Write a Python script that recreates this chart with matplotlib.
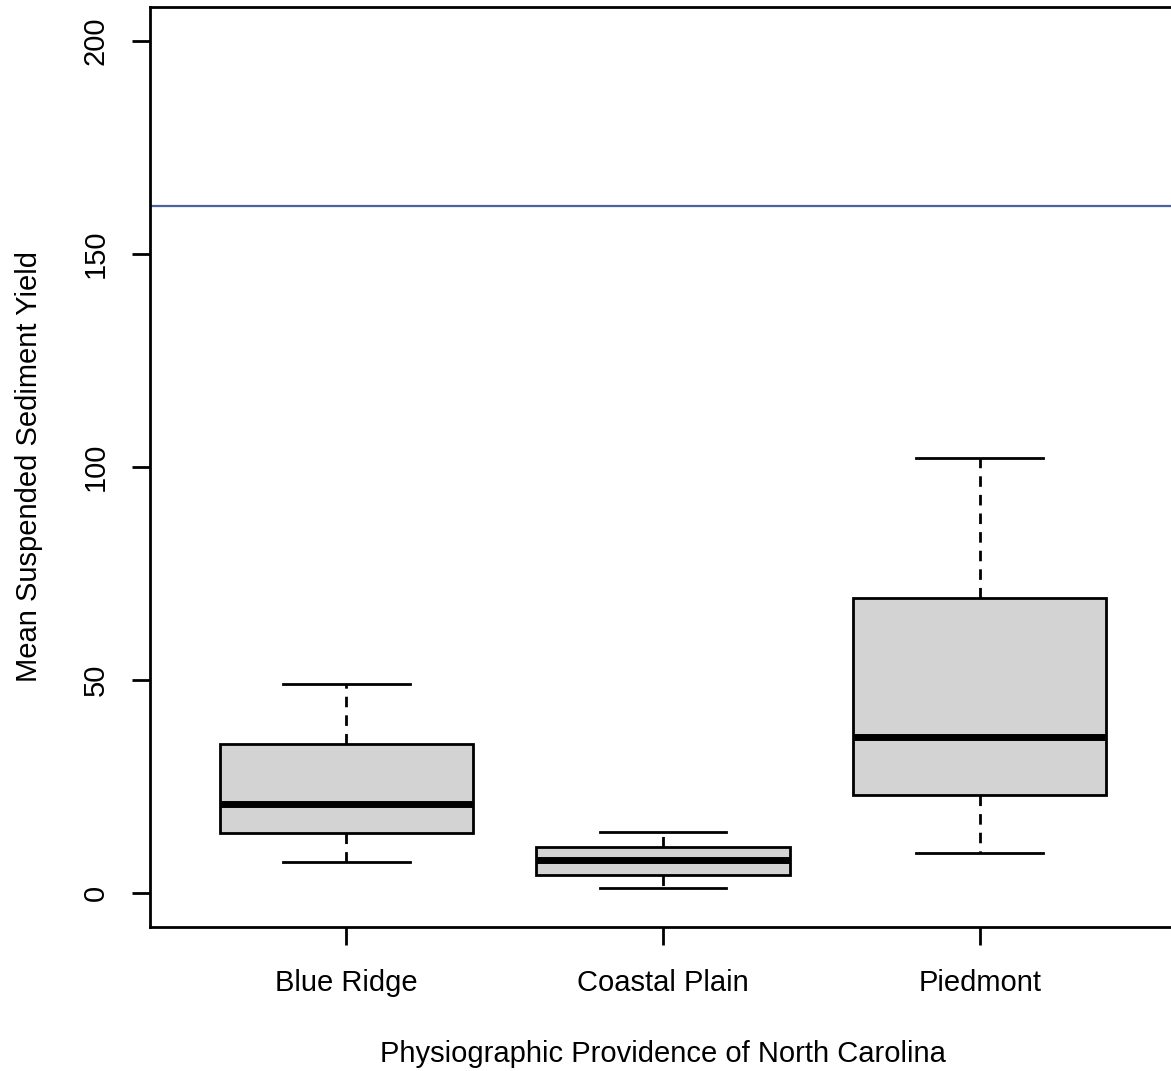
import matplotlib.pyplot as plt

plt.rcParams['font.family'] = ['Liberation Sans', 'DejaVu Sans']

# R-style boxplot summary per province
provinces = ["Blue Ridge", "Coastal Plain", "Piedmont"]
whisker_low = [7.3, 1.2, 9.4]
q1 = [14.1, 4.2, 23.0]
median = [20.9, 7.8, 36.7]
q3 = [35.0, 10.8, 69.3]
whisker_high = [49.1, 14.3, 102.0]
ref_line = 161.2
y_ticks = [0, 50, 100, 150, 200]

stats = []
for i, name in enumerate(provinces):
    stats.append({"label": name, "whislo": whisker_low[i], "q1": q1[i],
                  "med": median[i], "q3": q3[i], "whishi": whisker_high[i],
                  "fliers": []})

fig = plt.figure(figsize=(11.71, 10.71), dpi=100)
ax = fig.add_axes([150 / 1171, 144 / 1071, 1026 / 1171, 920 / 1071])

ax.bxp(stats, positions=[1, 2, 3], widths=0.8, patch_artist=True,
       showfliers=False,
       boxprops=dict(facecolor="#d3d3d3", edgecolor="black", linewidth=2.0),
       medianprops=dict(color="black", linewidth=5.0, solid_capstyle="butt"),
       whiskerprops=dict(color="black", linewidth=2.0, linestyle=(0, (3.8, 2.9))),
       capprops=dict(color="black", linewidth=2.0),
       capwidths=0.4)

ax.axhline(ref_line, color="#4a63a0", linewidth=1.6)

ax.set_xlim(0.38, 3.62)
ax.set_ylim(-8, 208)
ax.set_yticks(y_ticks)
ax.set_yticklabels([str(v) for v in y_ticks], rotation=90, va="center")
ax.set_xticks([1, 2, 3])
ax.set_xticklabels(provinces)

for s in ax.spines.values():
    s.set_linewidth(2.0)
ax.tick_params(axis="both", length=13, width=2.0, labelsize=21, colors="black")
ax.tick_params(axis="y", pad=16)
ax.tick_params(axis="x", pad=17.5)

ax.set_xlabel("Physiographic Providence of North Carolina", fontsize=21, labelpad=31)
ax.set_ylabel("Mean Suspended Sediment Yield", fontsize=21, labelpad=28)

fig.savefig("out.png", dpi=100)
